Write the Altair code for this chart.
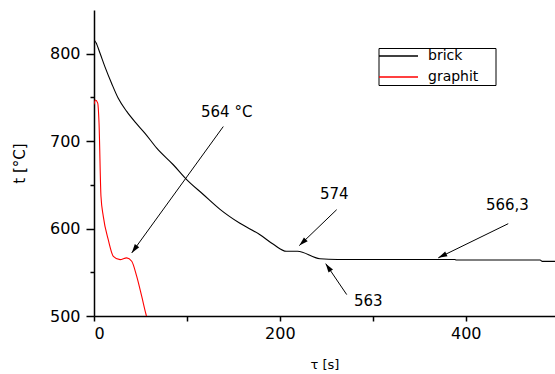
import math
import altair as alt
import pandas as pd

# ---- data ----
brick_t = [0, 2.2, 6.5, 11.8, 19, 26.1, 35.2, 44.1, 54.9, 67.5, 85.3, 99.7, 117.6, 135.6, 157, 178.6,
           193, 207, 219, 243, 262, 388, 390, 480, 482, 500]
brick_T = [816, 812.6, 800.5, 785, 766, 749, 734, 722, 709, 692, 673, 656, 639, 622, 606, 593,
           582, 574, 574, 565.5, 564.7, 564.7, 564, 564, 562.5, 562.5]

graphit_t = [0, 1.5, 4, 5.4, 7.5, 10, 15.4, 20.8, 28, 35.2, 40.6, 45.9, 51.3, 56, 58]
graphit_T = [742, 747, 743.5, 721, 637, 614, 587, 568.3, 564.5, 566.5, 562.6, 545.5, 522.6, 501.7, 494]

series_names = ["brick", "graphit"]
series_colors = ["black", "red"]

note_text = ["564 °C", "574", "563", "566,3"]
note_x = [115.1, 243.1, 279.7, 421.7]
note_y = [733.5, 639.9, 516.9, 627.3]

arrow_x1 = [139.1, 261.1, 271.9, 445.7]
arrow_y1 = [716.7, 621.6, 524.5, 605.6]
arrow_x2 = [40.6, 220.9, 249.3, 370.4]
arrow_y2 = [572.2, 580.5, 559.9, 566.5]

x_domain = [0, 496]
y_domain = [500, 850]
x_ticks = [0, 100, 200, 300, 400]
y_ticks = [500, 550, 600, 650, 700, 750, 800]

W, H = 461, 306

# ---- tables ----
lines_df = pd.concat([
    pd.DataFrame({"time": brick_t, "temp": brick_T, "series": series_names[0], "order": range(len(brick_t))}),
    pd.DataFrame({"time": graphit_t, "temp": graphit_T, "series": series_names[1], "order": range(len(graphit_t))}),
])

sx = W / (x_domain[1] - x_domain[0])
sy = H / (y_domain[1] - y_domain[0])
angles = []
for x1, y1, x2, y2 in zip(arrow_x1, arrow_y1, arrow_x2, arrow_y2):
    dx = (x2 - x1) * sx
    dy = -(y2 - y1) * sy
    angles.append(math.degrees(math.atan2(dx, -dy)) % 360)

arrows_df = pd.DataFrame({"time": arrow_x1, "temp": arrow_y1, "time2": arrow_x2, "temp2": arrow_y2,
                          "angle": angles})
notes_df = pd.DataFrame({"time": note_x, "temp": note_y, "text": note_text})

FONT = "DejaVu Sans"

xs = alt.Scale(domain=x_domain, nice=False, zero=False)
ys = alt.Scale(domain=y_domain, nice=False, zero=False)

xaxis = alt.Axis(values=x_ticks, labelExpr="datum.value % 200 === 0 ? datum.label : ''",
                 grid=False, domainColor="black", domainWidth=1.5, tickColor="black", tickWidth=1.5,
                 tickSize=5, labelFontSize=16, labelColor="black", labelPadding=4, labelFont=FONT,
                 title="τ [s]", titleFontSize=13, titleFontWeight="normal", titleColor="black",
                 titlePadding=17, titleFont=FONT)
yaxis = alt.Axis(values=y_ticks, labelExpr="datum.value % 100 === 0 ? datum.label : ''",
                 grid=False, domainColor="black", domainWidth=1.5, tickColor="black", tickWidth=1.5,
                 tickSize={"condition": {"test": "datum.value % 100 === 0", "value": 8}, "value": 4},
                 labelFontSize=16, labelColor="black", labelPadding=6, labelFont=FONT,
                 title="t [°C]", titleFontSize=15, titleFontWeight="normal", titleColor="black",
                 titlePadding=22, titleFont=FONT)

X = alt.X("time:Q", scale=xs, axis=xaxis)
Y = alt.Y("temp:Q", scale=ys, axis=yaxis)

lines = alt.Chart(lines_df).mark_line(clip=True, strokeWidth=1.1, interpolate="monotone").encode(
    x=X, y=Y, order="order:Q",
    color=alt.Color("series:N", legend=None,
                    scale=alt.Scale(domain=series_names, range=series_colors)),
)

rules = alt.Chart(arrows_df).mark_rule(color="black", strokeWidth=1).encode(
    x=X, y=Y, x2="time2:Q", y2="temp2:Q")

heads = alt.Chart(arrows_df).mark_point(shape="M0,0L-0.6,2L0.6,2Z", filled=True, color="black",
                                         size=81, opacity=1).encode(
    x=alt.X("time2:Q", scale=xs, axis=xaxis), y=alt.Y("temp2:Q", scale=ys, axis=yaxis),
    angle=alt.Angle("angle:Q", scale=None))

notes = alt.Chart(notes_df).mark_text(align="left", baseline="middle", font=FONT, fontSize=15,
                                      color="black").encode(x=X, y=Y, text="text:N")

# ---- legend box drawn by hand (layout only) ----
one = pd.DataFrame({"k": [0]})
legend_box = alt.Chart(one).mark_rect(fill="white", stroke="black", strokeWidth=1).encode(
    x=alt.value(285), x2=alt.value(402), y=alt.value(38.5), y2=alt.value(75.5))
legend_parts = [legend_box]
for i, (name, col) in enumerate(zip(series_names, series_colors)):
    ypos = 46 + i * 21
    legend_parts.append(alt.Chart(one).mark_rule(strokeWidth=1.3).encode(
        x=alt.value(285), x2=alt.value(324), y=alt.value(ypos), color=alt.value(col)))
    legend_parts.append(alt.Chart(one).mark_text(align="left", baseline="middle", font=FONT,
                                                 fontSize=14, color="black").encode(
        x=alt.value(334), y=alt.value(ypos), text=alt.value(name)))

chart = alt.layer(lines, rules, heads, notes, *legend_parts).properties(
    width=W, height=H,
    autosize=alt.AutoSizeParams(type="none"),
    padding={"left": 94, "top": 10, "right": 0, "bottom": 58},
    background="white",
).configure_view(stroke=None)

chart.save("out.html", embed_options={"renderer": "svg", "actions": False})
